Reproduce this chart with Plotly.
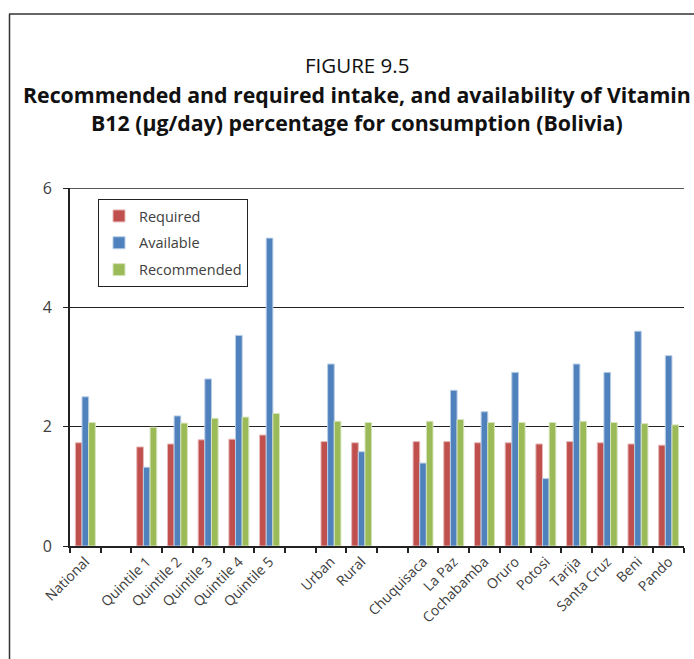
import plotly.graph_objects as go

categories = ["National", " ", "Quintile 1", "Quintile 2", "Quintile 3", "Quintile 4", "Quintile 5",
              "  ", "Urban", "Rural", "   ", "Chuquisaca", "La Paz", "Cochabamba", "Oruro",
              "Potosi", "Tarija", "Santa Cruz", "Beni", "Pando"]
required = [1.73, None, 1.66, 1.71, 1.78, 1.79, 1.86, None, 1.75, 1.73, None,
            1.75, 1.75, 1.73, 1.73, 1.71, 1.75, 1.73, 1.71, 1.69]
available = [2.50, None, 1.32, 2.18, 2.80, 3.53, 5.16, None, 3.05, 1.58, None,
             1.39, 2.61, 2.25, 2.91, 1.13, 3.05, 2.91, 3.60, 3.19]
recommended = [2.07, None, 1.99, 2.06, 2.14, 2.16, 2.22, None, 2.09, 2.07, None,
               2.09, 2.12, 2.07, 2.07, 2.07, 2.09, 2.07, 2.05, 2.03]
y_ticks = [0, 2, 4, 6]

series = [
    ("Required", required, "#C0504D", "#E6B9B8"),
    ("Available", available, "#4F81BD", "#B9CDE5"),
    ("Recommended", recommended, "#9BBB59", "#D7E4BD"),
]

fig = go.Figure()
for i, (name, vals, col, edge) in enumerate(series):
    fig.add_trace(go.Bar(
        x=categories, y=vals, name=name, legendgroup=f"g{i}",
        marker=dict(color=col, line=dict(color=edge, width=1)),
    ))

W, H = 694, 659
L, R, T, B = 70, 10, 188, 113
pw, ph = W - L - R, H - T - B

def px(x):
    return (x - L) / pw

def py(y):
    return (H - B - y) / ph

fig.update_layout(
    width=W, height=H,
    margin=dict(l=L, r=R, t=T, b=B, autoexpand=False),
    paper_bgcolor="white", plot_bgcolor="white",
    barmode="group", bargap=0.35, bargroupgap=0,
    font=dict(family="Open Sans", color="#404040"),
    showlegend=True,
    legend=dict(
        x=px(98), y=py(199), xanchor="left", yanchor="top",
        bgcolor="white", bordercolor="#222", borderwidth=1,
        font=dict(size=14.5, color="#404040", family="Open Sans"),
        tracegroupgap=5, traceorder="grouped",
    ),
    xaxis=dict(
        type="category", tickson="boundaries", ticks="outside", ticklen=5,
        tickcolor="#222", tickwidth=1.5,
        showline=True, linecolor="#222", linewidth=2,
        tickangle=-45, tickfont=dict(size=14, color="#404040"),
        showgrid=False,
    ),
    yaxis=dict(
        range=[0, 6], tickvals=y_ticks, ticks="outside", ticklen=5, tickcolor="#222",
        showline=True, linecolor="#222", linewidth=2,
        showgrid=True, gridcolor="#222", gridwidth=1.3,
        tickfont=dict(size=16, color="#404040"), zeroline=False,
        ticklabelstandoff=8,
    ),
    shapes=[
        dict(type="line", xref="paper", yref="y", x0=0, x1=1, y0=6, y1=6,
             line=dict(color="#222", width=1.3)),
        dict(type="line", xref="paper", yref="paper", x0=px(9), x1=px(694), y0=py(14), y1=py(14),
             line=dict(color="#333", width=1.5)),
        dict(type="line", xref="paper", yref="paper", x0=px(9.5), x1=px(9.5), y0=py(14), y1=py(659),
             line=dict(color="#333", width=1.5)),
    ],
    annotations=[
        dict(text="FIGURE 9.5", x=px(357), y=py(65), xref="paper", yref="paper",
             showarrow=False, font=dict(size=20.5, color="#111"), xanchor="center", yanchor="middle"),
        dict(text="<b>Recommended and required intake, and availability of Vitamin</b>",
             x=px(356.5), y=py(95), xref="paper", yref="paper",
             showarrow=False, font=dict(size=21.3, color="#111"), xanchor="center", yanchor="middle"),
        dict(text="<b>B12 (µg/day) percentage for consumption (Bolivia)</b>",
             x=px(356.5), y=py(123), xref="paper", yref="paper",
             showarrow=False, font=dict(size=21.3, color="#111"), xanchor="center", yanchor="middle"),
    ],
)

fig.write_html("out.html", config={"displayModeBar": False},
               post_script="document.body.style.margin='0';document.body.style.padding='0';")
